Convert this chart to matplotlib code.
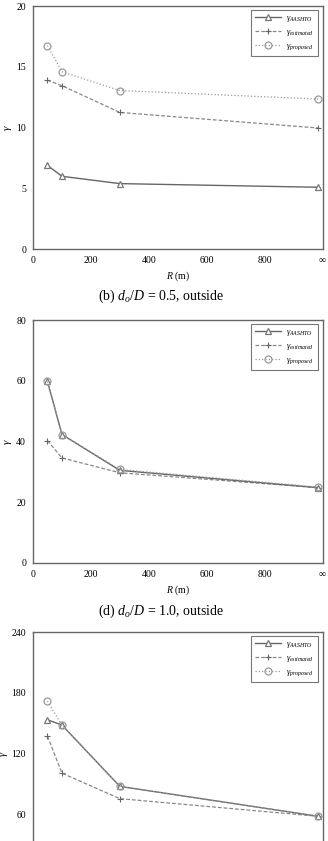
import matplotlib
matplotlib.use("Agg")
import matplotlib.pyplot as plt

plt.rcParams['font.family'] = ['Liberation Serif', 'DejaVu Serif']
plt.rcParams['mathtext.fontset'] = 'custom'
plt.rcParams['mathtext.rm'] = 'Liberation Serif'
plt.rcParams['mathtext.it'] = 'Liberation Serif:italic'

# R values (m); infinity drawn near right end of axis
R = [50, 100, 300, 985]
x_ticks = [0, 200, 400, 600, 800, 1000]
x_ticklabels = ['0', '200', '400', '600', '800', '∞']

# Panel 1
p1_aashto = [6.9, 6.0, 5.4, 5.1]
p1_est = [13.9, 13.45, 11.25, 9.97]
p1_prop = [16.75, 14.6, 13.05, 12.35]
p1_yticks = [0, 5, 10, 15, 20]

# Panel 2: (b) d_o/D = 0.5, outside
p2_aashto = [59.8, 42.3, 30.5, 24.8]
p2_est = [40.3, 34.6, 29.7, 24.8]
p2_prop = [59.8, 42.3, 30.8, 25.0]
p2_yticks = [0, 20, 40, 60, 80]

# Panel 3: (d) d_o/D = 1.0, outside
p3_aashto = [153.3, 148.1, 87.5, 58.0]
p3_est = [137.0, 100.6, 75.4, 58.0]
p3_prop = [171.6, 148.0, 87.5, 58.0]
p3_yticks = [0, 60, 120, 180, 240]

labels = [r'$\gamma_{AASHTO}$', r'$\gamma_{estimated}$', r'$\gamma_{proposed}$']

W, H = 328, 841
fig = plt.figure(figsize=(W / 100, H / 100), dpi=100)

def px_axes(left, top, right, bottom):
    return fig.add_axes([left / W, 1 - bottom / H, (right - left) / W, (bottom - top) / H])

def draw(ax, a, e, p, yticks, show_x=True):
    ax.plot(R, a, '-', color='#666666', lw=1.0, marker='^', ms=5,
            mfc='white', mec='#777777', mew=0.9, label=labels[0], zorder=3)
    ax.plot(R, e, '--', color='#888888', lw=0.9, marker='+', ms=5,
            mec='#666666', mew=0.8, label=labels[1], zorder=2,
            dashes=(3, 1.6))
    ax.plot(R, p, ':', color='#999999', lw=0.9, marker='o', ms=5,
            mfc='none', mec='#999999', mew=0.9, label=labels[2], zorder=4)
    ax.set_xlim(0, 1000)
    ax.set_ylim(yticks[0], yticks[-1])
    ax.set_xticks(x_ticks)
    if show_x:
        ax.set_yticks(yticks)
        ax.set_xticklabels(x_ticklabels)
        ax.set_xlabel(r'$R$ (m)', fontsize=7, labelpad=3)
        ax.set_ylabel(r'$\gamma$', fontsize=8)
        ax.yaxis.set_label_coords(-0.065, 0.5)
    else:
        # bottom of this panel lies beyond the page edge
        ax.set_yticks(yticks[1:])
        ax.set_xticklabels([])
        ax.set_ylabel(r'$\gamma$', fontsize=7.5)
        ax.yaxis.set_label_coords(-0.08, 0.5)
    ax.tick_params(length=0, labelsize=7, pad=5)
    for s in ax.spines.values():
        s.set_color('#666666')
        s.set_linewidth(1.0)
    leg = ax.legend(loc='upper right', fontsize=6, frameon=True, fancybox=False,
                    edgecolor='#555555', handlelength=3.2, borderpad=0.5,
                    labelspacing=0.45, borderaxespad=0.5, handletextpad=0.6)
    leg.get_frame().set_linewidth(0.8)

ax1 = px_axes(33, 6, 322.5, 249.3)
draw(ax1, p1_aashto, p1_est, p1_prop, p1_yticks)

ax2 = px_axes(33, 320, 322.5, 563)
draw(ax2, p2_aashto, p2_est, p2_prop, p2_yticks)

ax3 = px_axes(33, 632, 322.5, 875)
draw(ax3, p3_aashto, p3_est, p3_prop, p3_yticks, show_x=False)

fig.text(161.5 / W, 1 - 296 / H, r'(b) $d_o/D$ = 0.5, outside', ha='center', va='center', fontsize=10)
fig.text(161.5 / W, 1 - 611 / H, r'(d) $d_o/D$ = 1.0, outside', ha='center', va='center', fontsize=10)

fig.savefig('out.png', dpi=100)
